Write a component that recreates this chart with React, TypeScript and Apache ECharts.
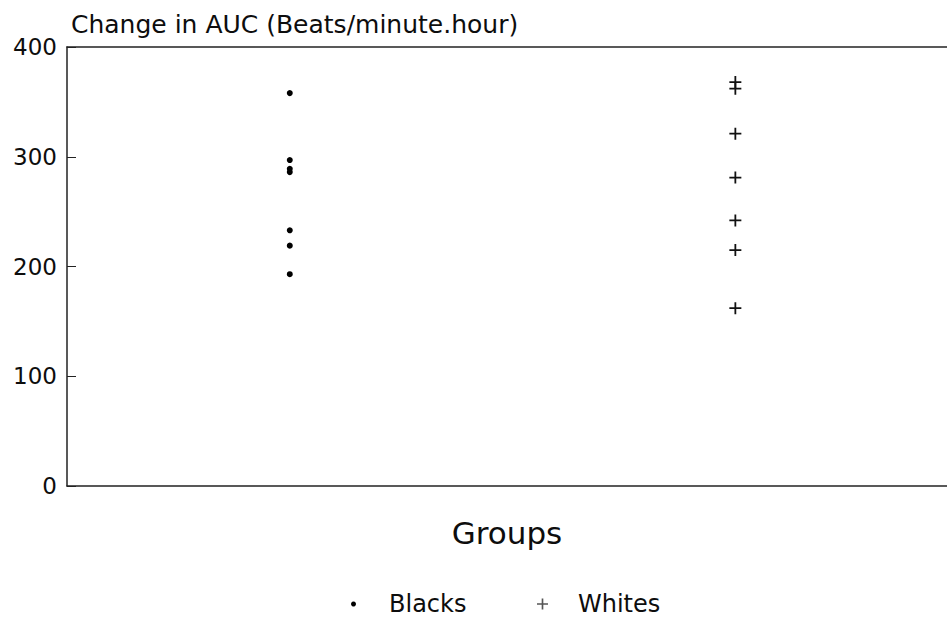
import React, { useEffect, useRef } from "react";
import * as echarts from "echarts";

// Group names and their horizontal positions on the hidden value axis
const groupNames = ["Blacks", "Whites"];
const groupPositions = [1, 3];

// Change in AUC for each subject (beats/minute.hour)
const blacksValues = [358, 297, 289, 286, 233, 219, 193];
const whitesValues = [368, 362, 321, 281, 242, 215, 162];

// Y axis range and step
const yMin = 0;
const yMax = 400;
const yStep = 100;

const plusSymbol = "path://M0,5.1H12V6.9H0Z M5.1,0H6.9V12H5.1Z";
const fontFamily = "'DejaVu Sans', 'Liberation Sans', sans-serif";
const ink = "#0d0d0d";
const axisInk = "#222";

export default function App() {
  const ref = useRef<HTMLDivElement>(null);

  useEffect(() => {
    if (!ref.current) return;
    const chart = echarts.init(ref.current, undefined, { renderer: "svg" });

    const toPoints = (values: number[], idx: number) =>
      values.map((v) => [groupPositions[idx], v]);

    const hiddenX = {
      type: "value",
      min: 0,
      max: 3.95,
      axisTick: { show: false },
      axisLabel: { show: false },
      splitLine: { show: false },
    };

    chart.setOption({
      animation: false,
      backgroundColor: "#ffffff",
      textStyle: { fontFamily, color: ink },
      title: {
        text: "Change in AUC (Beats/minute.hour)",
        left: 71,
        top: 12,
        padding: 0,
        textStyle: { fontFamily, fontSize: 25, fontWeight: "normal", color: ink },
      },
      legend: [
        {
          data: [{ name: groupNames[0], icon: "circle" }],
          left: 351,
          top: 592,
          padding: 0,
          itemWidth: 5,
          itemHeight: 5,
          textStyle: { fontFamily, fontSize: 24, color: ink, padding: [0, 0, 0, 28] },
        },
        {
          data: [{ name: groupNames[1], icon: plusSymbol }],
          left: 537,
          top: 592,
          padding: 0,
          itemWidth: 11,
          itemHeight: 11,
          itemStyle: { color: "#555", opacity: 1 },
          textStyle: { fontFamily, fontSize: 24, color: ink, padding: [0, 0, 0, 25] },
        },
      ],
      grid: {
        left: 67,
        top: 47,
        right: 0,
        bottom: 132,
        show: false,
      },
      xAxis: [
        {
          ...hiddenX,
          position: "bottom",
          axisLine: { show: true, lineStyle: { color: axisInk, width: 1.5 } },
          name: "Groups",
          nameLocation: "middle",
          nameGap: 31,
          nameTextStyle: { fontFamily, fontSize: 31, color: ink },
        },
        {
          ...hiddenX,
          position: "top",
          axisLine: { show: true, lineStyle: { color: axisInk, width: 1.5 } },
        },
      ],
      yAxis: {
        type: "value",
        min: yMin,
        max: yMax,
        interval: yStep,
        axisLine: { show: true, lineStyle: { color: axisInk, width: 1.5 } },
        axisTick: { show: true, inside: true, length: 9, lineStyle: { color: axisInk } },
        axisLabel: { margin: 10, fontFamily, fontSize: 23, color: ink },
        splitLine: { show: false },
      },
      series: [
        {
          name: groupNames[0],
          type: "scatter",
          xAxisIndex: 0,
          symbol: "circle",
          symbolSize: 6,
          itemStyle: { color: "#000", opacity: 1 },
          data: toPoints(blacksValues, 0),
        },
        {
          name: groupNames[1],
          type: "scatter",
          xAxisIndex: 0,
          symbol: plusSymbol,
          symbolSize: 12,
          itemStyle: { color: "#111", opacity: 1 },
          data: toPoints(whitesValues, 1),
        },
      ],
    });

    return () => chart.dispose();
  }, []);

  return (
    <div
      ref={ref}
      style={{ position: "absolute", left: 0, top: 0, width: 947, height: 618 }}
    />
  );
}
